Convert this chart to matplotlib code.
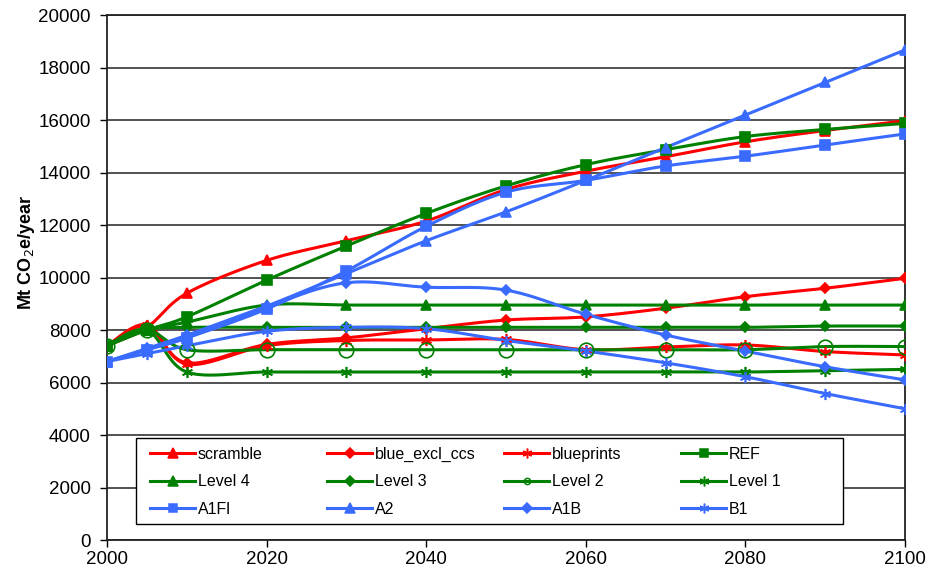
import numpy as np
import matplotlib
matplotlib.use("Agg")
import matplotlib.pyplot as plt
from matplotlib.lines import Line2D
from matplotlib.patches import Rectangle
from matplotlib.legend import Legend

plt.rcParams['font.family'] = ['Liberation Sans', 'DejaVu Sans']

years = [2000, 2005, 2010, 2020, 2030, 2040, 2050, 2060, 2070, 2080, 2090, 2100]

scramble = [7400, 8100, 9400, 10650, 11400, 12150, 13350, 14050, 14600, 15170, 15600, 15970]
blue_excl_ccs = [7400, 8150, 6750, 7450, 7700, 8050, 8380, 8500, 8830, 9270, 9590, 9970]
blueprints = [7400, 8200, 6700, 7400, 7600, 7620, 7640, 7250, 7350, 7430, 7180, 7050]
ref = [7400, 8000, 8500, 9900, 11200, 12440, 13490, 14300, 14870, 15370, 15640, 15870]
level4 = [7400, 8000, 8300, 8950, 8950, 8950, 8950, 8950, 8950, 8950, 8950, 8950]
level3 = [7400, 8000, 8100, 8100, 8100, 8100, 8100, 8100, 8100, 8100, 8150, 8150]
level2 = [7400, 8000, 7250, 7250, 7250, 7250, 7250, 7250, 7250, 7250, 7370, 7370]
level1 = [7400, 8000, 6400, 6400, 6400, 6400, 6400, 6400, 6400, 6400, 6450, 6500]
a1fi = [6800, 7250, 7700, 8800, 10250, 11950, 13250, 13700, 14250, 14620, 15050, 15470]
a2 = [6800, 7250, 7700, 8900, 10150, 11400, 12500, 13700, 14950, 16190, 17430, 18670]
a1b = [6800, 7300, 7800, 8900, 9800, 9630, 9520, 8600, 7810, 7200, 6600, 6100]
b1 = [6800, 7100, 7400, 7950, 8100, 8050, 7600, 7200, 6750, 6220, 5580, 5000]

legend_labels = ['scramble', 'blue_excl_ccs', 'blueprints', 'REF',
                 'Level 4', 'Level 3', 'Level 2', 'Level 1',
                 'A1Fl', 'A2', 'A1B', 'B1']
series_values = [scramble, blue_excl_ccs, blueprints, ref,
                 level4, level3, level2, level1,
                 a1fi, a2, a1b, b1]

RED = '#FF0000'
GREEN = '#008000'
BLUE = '#3A6BFF'
ASTER = (6, 2, 0)
# colour, marker, plot marker size, filled, legend marker size
styles = [
    (RED, '^', 7.5, True, 6.5), (RED, 'D', 5.5, True, 5), (RED, ASTER, 8, True, 7), (GREEN, 's', 6.5, True, 5.5),
    (GREEN, '^', 7.5, True, 6.5), (GREEN, 'D', 5.5, True, 5), (GREEN, 'o', 10.5, False, 4.5), (GREEN, ASTER, 8, True, 7),
    (BLUE, 's', 6.5, True, 5.5), (BLUE, '^', 7.5, True, 6.5), (BLUE, 'D', 5.5, True, 5), (BLUE, ASTER, 8, True, 7),
]

# plot-area pixel scale used for Excel-like smoothing
SX = 798.0 / 100.0
SY = 525.0 / 20000.0


def smooth(xs, ys, n=24):
    px = np.array(xs, float) * SX
    py = np.array(ys, float) * SY
    outx, outy = [], []
    m = len(px)
    for i in range(m - 1):
        p0 = np.array([px[i - 1], py[i - 1]]) if i > 0 else np.array([px[i], py[i]])
        p1 = np.array([px[i], py[i]])
        p2 = np.array([px[i + 1], py[i + 1]])
        p3 = np.array([px[i + 2], py[i + 2]]) if i + 2 < m else p2
        c1 = p1 + (p2 - p0) / 6.0
        c2 = p2 - (p3 - p1) / 6.0
        t = np.linspace(0, 1, n, endpoint=(i == m - 2))
        b = ((1 - t) ** 3)[:, None] * p1 + (3 * (1 - t) ** 2 * t)[:, None] * c1 + \
            (3 * (1 - t) * t ** 2)[:, None] * c2 + (t ** 3)[:, None] * p2
        outx.extend(b[:, 0] / SX)
        outy.extend(b[:, 1] / SY)
    return outx, outy


fig = plt.figure(figsize=(9.35, 5.77), dpi=100)
ax = fig.add_axes([0.1144, 0.0641, 0.8535, 0.9099])

for vals, (col, mk, ms, filled, lms) in zip(series_values, styles):
    sx, sy = smooth(years, vals)
    ax.plot(sx, sy, color=col, lw=2.2, solid_capstyle='round', zorder=3)
    ax.plot(years, vals, linestyle='none', marker=mk, markersize=ms,
            color=col, markerfacecolor=col if filled else 'none',
            markeredgecolor=col, markeredgewidth=1.2, zorder=4)

ax.set_xlim(2000, 2100)
ax.set_ylim(0, 20000)
ax.set_xticks([2000, 2020, 2040, 2060, 2080, 2100])
ax.set_yticks(range(0, 20001, 2000))
ax.tick_params(axis='both', labelsize=13.5, direction='out', length=5, width=1, colors='black')
ax.tick_params(axis='y', pad=6.5)
ax.tick_params(axis='x', pad=3)
ax.yaxis.grid(True, color='#333333', lw=1.2)
ax.set_axisbelow(True)
for s in ax.spines.values():
    s.set_color('#222222')
    s.set_linewidth(1.3)
ax.set_ylabel('Mt CO$_2$e/year', fontsize=13, fontweight='bold')
ax.yaxis.set_label_coords(-0.088, 0.549)

# legend frame
ax.add_patch(Rectangle((0.036, 0.0305), 0.886, 0.164, transform=ax.transAxes,
                       facecolor='white', edgecolor='black', lw=1.0, zorder=5))

col_x = [0.0545, 0.2763, 0.4981, 0.7199]
for c in range(4):
    hs, ls = [], []
    for r in range(3):
        k = r * 4 + c
        col, mk, ms, filled, lms = styles[k]
        hs.append(Line2D([], [], color=col, lw=2.2, marker=mk, markersize=lms,
                         markerfacecolor=col if filled else 'none',
                         markeredgecolor=col, markeredgewidth=1.1))
        ls.append(legend_labels[k])
    leg = Legend(ax, hs, ls, loc='upper left', bbox_to_anchor=(col_x[c], 0.1774),
                 bbox_transform=ax.transAxes,
                 frameon=False, fontsize=11.5, handlelength=2.8,
                 handletextpad=0.15, borderaxespad=0, borderpad=0,
                 labelspacing=0.78)
    leg.set_zorder(6)
    ax.add_artist(leg)

fig.savefig('out.png', dpi=100)
